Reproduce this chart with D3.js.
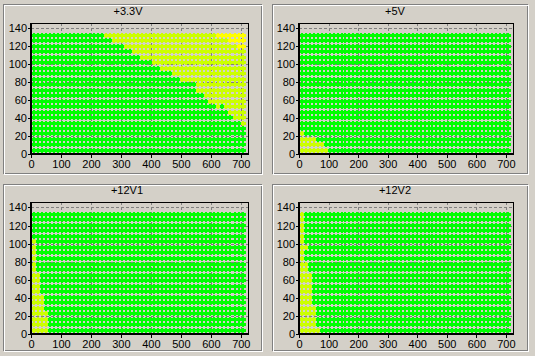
<!DOCTYPE html>
<html><head><meta charset="utf-8">
<script src="https://cdn.jsdelivr.net/npm/d3@7"></script>
<style>body{margin:0;background:#d4d0c8;overflow:hidden;} svg{display:block;}</style>
</head><body><svg id="c" width="535" height="356"></svg>
<script>
// ---- data ----
const panelTitles = ["+3.3V", "+5V", "+12V1", "+12V2"];
const loadColumns = [10.0, 23.4, 36.8, 50.1, 63.5, 76.9, 90.3, 103.7, 117.0, 130.4, 143.8, 157.2, 170.6, 183.9,
  197.3, 210.7, 224.1, 237.5, 250.8, 264.2, 277.6, 291.0, 304.4, 317.7, 331.1, 344.5, 357.9, 371.3, 384.6, 398.0,
  411.4, 424.8, 438.2, 451.5, 464.9, 478.3, 491.7, 505.1, 518.4, 531.8, 545.2, 558.6, 572.0, 585.3, 598.7, 612.1,
  625.5, 638.9, 652.2, 665.6, 679.0, 692.4, 705.8];
const loadRows = [4.5, 10.6, 16.7, 22.9, 29.0, 35.1, 41.2, 47.3, 53.5, 59.6, 65.7, 71.8, 77.9, 84.0, 90.2,
  96.3, 102.4, 108.5, 114.6, 120.8, 126.9, 133.0];
const xTicks = [0, 100, 200, 300, 400, 500, 600, 700];
const yTicks = [0, 20, 40, 60, 80, 100, 120, 140];
// +3.3V: green up to this load (per row, bottom to top), then yellow-green, bright yellow from v33BrightFrom
const v33GreenUpTo = [999, 999, 999, 999, 999, 695, 673, 656, 615, 589, 583, 553, 553, 500, 472, 433, 411, 361, 333, 305, 266, 240];
const v33BrightFrom = [999, 999, 999, 999, 999, 999, 999, 999, 999, 999, 999, 999, 999, 999, 999, 999, 999, 999, 999, 688, 660, 620];
const v33ExtraGreenRow = [53.5];
const v33ExtraGreenLoad = [638.9];
// others: yellow-green up to this load (per row, bottom to top), green beyond
const v5YellowUpTo = [100, 82, 60, 15, 0, 0, 0, 0, 0, 0, 0, 0, 0, 0, 0, 0, 0, 0, 0, 0, 0, 0];
const v12v1YellowUpTo = [60, 60, 58, 52, 44, 44, 44, 33, 33, 31, 27, 22, 22, 13, 11, 11, 11, 8, 0, 0, 0, 0];
const v12v2YellowUpTo = [65, 59, 59, 56, 53, 48, 48, 45, 42, 37, 37, 31, 28, 23, 23, 25, 23, 12, 11, 11, 11, 11];

const GREEN = "#00ff00", YG = "#ccff00", YEL = "#ffff00";

function color33(r, v) {
  const y = loadRows[r];
  for (let i = 0; i < v33ExtraGreenRow.length; i++)
    if (v33ExtraGreenRow[i] === y && v33ExtraGreenLoad[i] === v) return GREEN;
  if (v <= v33GreenUpTo[r]) return GREEN;
  if (v >= v33BrightFrom[r]) return YEL;
  return YG;
}
function colorBy(arr) { return (r, v) => v <= arr[r] ? YG : GREEN; }

const panels = [
  { title: panelTitles[0], fx: 3, fy: 4, fw: 259, fh: 170, l: 31, r: 248, t: 23, b: 154, tx: 128, ty: 15, col: color33 },
  { title: panelTitles[1], fx: 272, fy: 4, fw: 256, fh: 170, l: 299, r: 513, t: 23, b: 154, tx: 395, ty: 15, col: colorBy(v5YellowUpTo) },
  { title: panelTitles[2], fx: 3, fy: 184, fw: 259, fh: 167, l: 31, r: 248, t: 202, b: 334, tx: 127, ty: 194, col: colorBy(v12v1YellowUpTo) },
  { title: panelTitles[3], fx: 272, fy: 184, fw: 256, fh: 167, l: 299, r: 513, t: 202, b: 334, tx: 395, ty: 194, col: colorBy(v12v2YellowUpTo) }
];

const svg = d3.select("#c");
svg.append("rect").attr("width", 535).attr("height", 356).attr("fill", "#d4d0c8");

panels.forEach(p => {
  const g = svg.append("g");
  // etched frame
  g.append("rect").attr("x", p.fx + 0.5).attr("y", p.fy + 0.5).attr("width", p.fw - 1).attr("height", p.fh - 1)
    .attr("fill", "none").attr("stroke", "#808080");
  g.append("rect").attr("x", p.fx + 1.5).attr("y", p.fy + 1.5).attr("width", p.fw - 1).attr("height", p.fh - 1)
    .attr("fill", "none").attr("stroke", "#ffffff");
  g.append("text").attr("x", p.tx).attr("y", p.ty).attr("text-anchor", "middle")
    .attr("font-family", "'Liberation Sans', Arial, sans-serif").attr("font-size", 11).attr("fill", "#000").text(p.title);

  const x = d3.scaleLinear().domain([0, 724]).range([p.l, p.r]);
  const y = d3.scaleLinear().domain([0, 146]).range([p.b, p.t]);

  // grid (dashed), behind the markers
  const grid = g.append("g").attr("stroke", "#808080").attr("stroke-dasharray", "3,2").attr("shape-rendering", "crispEdges");
  yTicks.filter(v => v > 0).forEach(v => {
    grid.append("line").attr("x1", p.l).attr("x2", p.r).attr("y1", Math.round(y(v)) + 0.5).attr("y2", Math.round(y(v)) + 0.5);
  });
  xTicks.filter(v => v > 0).forEach(v => {
    grid.append("line").attr("y1", p.t).attr("y2", p.b).attr("x1", Math.round(x(v)) + 0.5).attr("x2", Math.round(x(v)) + 0.5);
  });

  // markers
  const pts = [];
  loadRows.forEach((rv, ri) => loadColumns.forEach(cv => pts.push({ ri, rv, cv })));
  g.append("g").attr("shape-rendering", "crispEdges").selectAll("path").data(pts).join("path")
    .attr("d", d => {
      const cx = Math.round(x(d.cv)), cy = Math.round(y(d.rv));
      return `M${cx - 2},${cy - 1}h5v3h-5z M${cx - 1},${cy - 2}h2v5h-2z`;
    })
    .attr("fill", d => p.col(d.ri, d.cv));

  // frame & axes
  g.append("rect").attr("x", p.l + 0.5).attr("y", p.t + 0.5).attr("width", p.r - p.l).attr("height", p.b - p.t)
    .attr("fill", "none").attr("stroke", "#000").attr("shape-rendering", "crispEdges");
  const xAxis = d3.axisBottom(x).tickValues(xTicks).tickSize(4).tickPadding(2).tickFormat(d3.format("d"));
  const yAxis = d3.axisLeft(y).tickValues(yTicks).tickSize(3).tickPadding(1).tickFormat(d3.format("d"));
  const ax = g.append("g").attr("transform", `translate(0,${p.b})`).call(xAxis);
  const ay = g.append("g").attr("transform", `translate(${p.l},0)`).call(yAxis);
  [ax, ay].forEach(a => {
    a.select(".domain").remove();
    a.selectAll("line").attr("stroke", "#000").attr("shape-rendering", "crispEdges");
    a.selectAll("text").attr("font-family", "'Liberation Sans', Arial, sans-serif").attr("font-size", 11).attr("fill", "#000");
  });
  // thick left and bottom axis lines
  g.append("line").attr("x1", p.l).attr("x2", p.l).attr("y1", p.t).attr("y2", p.b + 1).attr("stroke", "#000").attr("stroke-width", 2);
  g.append("line").attr("x1", p.l - 1).attr("x2", p.r + 1).attr("y1", p.b).attr("y2", p.b).attr("stroke", "#000").attr("stroke-width", 2);
});
</script></body></html>
